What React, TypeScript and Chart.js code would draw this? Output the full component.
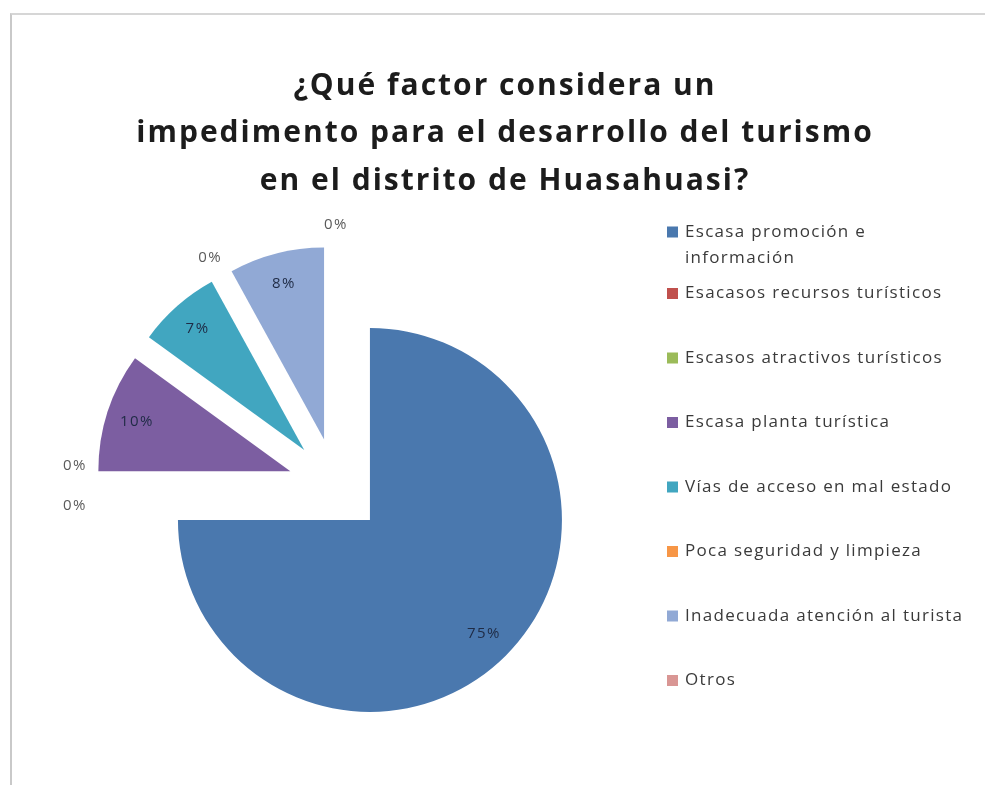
import React, { useEffect, useRef } from 'react';
import { Chart, registerables } from 'chart.js';

Chart.register(...registerables);

const TITLE_LINES = [
  '¿Qué factor considera un',
  'impedimento para el desarrollo del turismo',
  'en el distrito de Huasahuasi?',
];

const CATEGORIES = [
  'Escasa promoción e información',
  'Esacasos recursos turísticos',
  'Escasos atractivos turísticos',
  'Escasa planta turística',
  'Vías de acceso en mal estado',
  'Poca seguridad y limpieza',
  'Inadecuada atención al turista',
  'Otros',
];

const LEGEND_LABELS = [
  ['Escasa promoción e', 'información'],
  ['Esacasos recursos turísticos'],
  ['Escasos atractivos turísticos'],
  ['Escasa planta turística'],
  ['Vías de acceso en mal estado'],
  ['Poca seguridad y limpieza'],
  ['Inadecuada atención al turista'],
  ['Otros'],
];

const PERCENT_VALUES = [75, 0, 0, 10, 7, 0, 8, 0];

const SLICE_COLORS = [
  '#4a78ae',
  '#c0504d',
  '#9bbb59',
  '#7c5ea1',
  '#41a6c0',
  '#f79646',
  '#91a9d5',
  '#d99694',
];

const EXPLODE = 48;
const FONT = '"Open Sans", "Noto Sans", sans-serif';

function arcGeom(arc: any) {
  const p = arc.getProps(['x', 'y', 'startAngle', 'endAngle', 'outerRadius'], true);
  const mid = (p.startAngle + p.endAngle) / 2;
  const cx = p.x + Math.cos(mid) * EXPLODE;
  const cy = p.y + Math.sin(mid) * EXPLODE;
  return { ...p, mid, cx, cy };
}

const explodedPiePlugin = {
  id: 'explodedPie',
  beforeDatasetsDraw(chart: any) {
    const ctx = chart.ctx;
    const meta = chart.getDatasetMeta(0);
    meta.data.forEach((arc: any) => {
      const g = arcGeom(arc);
      if (g.endAngle - g.startAngle <= 0) return;
      ctx.save();
      ctx.beginPath();
      ctx.moveTo(g.cx, g.cy);
      ctx.arc(g.cx, g.cy, g.outerRadius, g.startAngle, g.endAngle);
      ctx.closePath();
      ctx.fillStyle = arc.options.backgroundColor;
      ctx.fill();
      ctx.restore();
    });
    return false;
  },
};

const labelsPlugin = {
  id: 'sliceLabels',
  afterDraw(chart: any) {
    const ctx = chart.ctx;
    const meta = chart.getDatasetMeta(0);
    const values = chart.data.datasets[0].data as number[];
    const groups: Record<string, number[]> = {};
    values.forEach((v, i) => {
      if (v === 0) {
        const key = arcGeom(meta.data[i]).mid.toFixed(4);
        (groups[key] = groups[key] || []).push(i);
      }
    });
    ctx.save();
    ctx.textAlign = 'center';
    ctx.textBaseline = 'middle';
    (ctx as any).letterSpacing = '1.5px';
    meta.data.forEach((arc: any, i: number) => {
      const g = arcGeom(arc);
      const v = values[i];
      const dx = Math.cos(g.mid);
      const dy = Math.sin(g.mid);
      let x: number;
      let y: number;
      if (v > 0) {
        x = g.cx + dx * g.outerRadius * 0.84;
        y = g.cy + dy * g.outerRadius * 0.84;
        ctx.fillStyle = '#1f2b45';
      } else {
        const grp = groups[g.mid.toFixed(4)];
        const k = grp.indexOf(i) - (grp.length - 1) / 2;
        x = g.cx + dx * (g.outerRadius + 21) + dy * k * 40;
        y = g.cy + dy * (g.outerRadius + 21) - dx * k * 40;
        ctx.fillStyle = '#5a5a5a';
      }
      ctx.font = `15px ${FONT}`;
      ctx.fillText(`${v}%`, x, y);
    });
    ctx.restore();
  },
};

const titlePlugin = {
  id: 'customTitle',
  afterDraw(chart: any) {
    const ctx = chart.ctx;
    ctx.save();
    ctx.fillStyle = '#1c1c1c';
    ctx.textAlign = 'center';
    ctx.textBaseline = 'middle';
    ctx.font = `bold 30px ${FONT}`;
    (ctx as any).letterSpacing = '2px';
    TITLE_LINES.forEach((line, j) => {
      ctx.fillText(line, 505, 86 + j * 47.5);
    });
    ctx.restore();
  },
};

const legendPlugin = {
  id: 'customLegend',
  afterDraw(chart: any) {
    const ctx = chart.ctx;
    const colors = chart.data.datasets[0].backgroundColor as string[];
    ctx.save();
    ctx.textAlign = 'left';
    ctx.textBaseline = 'middle';
    ctx.font = `17px ${FONT}`;
    (ctx as any).letterSpacing = '1.3px';
    let y = 232;
    LEGEND_LABELS.forEach((lines, i) => {
      ctx.fillStyle = colors[i];
      ctx.fillRect(667, y - 5.5, 11, 11);
      ctx.fillStyle = '#3a3a3a';
      lines.forEach((ln, j) => ctx.fillText(ln, 685, y + j * 26));
      y += i === 0 ? 61.5 : 64.5;
    });
    ctx.restore();
  },
};

export default function App() {
  const ref = useRef<HTMLCanvasElement | null>(null);
  useEffect(() => {
    document.body.style.margin = '0';
    const canvas = ref.current;
    if (!canvas) return;
    const chart = new Chart(canvas, {
      type: 'pie',
      data: {
        labels: CATEGORIES,
        datasets: [
          {
            data: PERCENT_VALUES,
            backgroundColor: SLICE_COLORS,
            borderWidth: 0,
          },
        ],
      },
      options: {
        responsive: false,
        maintainAspectRatio: false,
        animation: false,
        devicePixelRatio: 1,
        radius: 192,
        layout: { padding: { left: 0, right: 313, top: 187, bottom: 0 } },
        plugins: {
          legend: { display: false },
          title: { display: false },
          tooltip: { enabled: false },
        },
      } as any,
      plugins: [explodedPiePlugin, labelsPlugin, titlePlugin, legendPlugin],
    });
    return () => chart.destroy();
  }, []);

  return (
    <div style={{ position: 'relative', width: 985, height: 785, overflow: 'hidden', background: '#fff' }}>
      <canvas ref={ref} width={985} height={785} style={{ position: 'absolute', left: 0, top: 0, width: 985, height: 785 }} />
      <div
        style={{
          position: 'absolute',
          left: 10,
          top: 13,
          width: 1000,
          height: 800,
          borderLeft: '2px solid #c9c9c9',
          borderTop: '2px solid #d6d6d6',
          pointerEvents: 'none',
        }}
      />
    </div>
  );
}
